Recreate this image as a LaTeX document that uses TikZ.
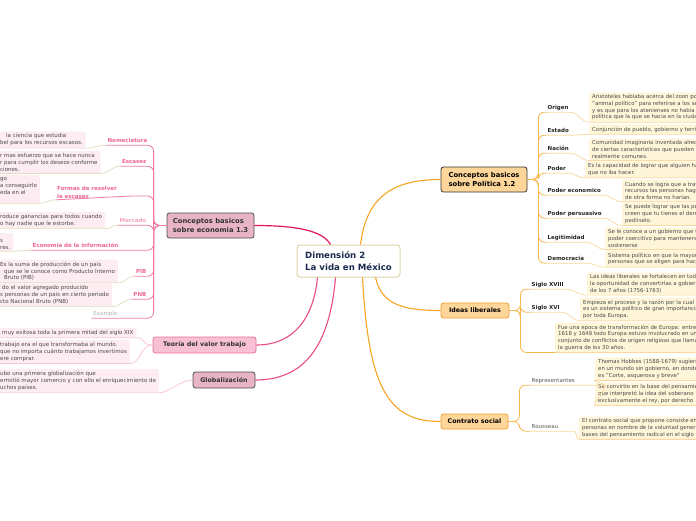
\documentclass[tikz,border=0pt]{standalone}
\usepackage{fontspec}
\setmainfont{DejaVu Sans}
\usetikzlibrary{calc}
\definecolor{navy}{HTML}{1B2A4E}
\definecolor{cborder}{HTML}{DDD3A8}
\definecolor{econfill}{HTML}{E7B3C7}
\definecolor{teofill}{HTML}{F8C0D4}
\definecolor{teoborder}{HTML}{E8709A}
\definecolor{polfill}{HTML}{FFD699}
\definecolor{libborder}{HTML}{F0A030}
\definecolor{darkb}{HTML}{4D4D4D}
\definecolor{econline}{HTML}{E2165E}
\definecolor{pinkline}{HTML}{EA4C86}
\definecolor{pinksub}{HTML}{F07AA5}
\definecolor{pinklab}{HTML}{F06595}
\definecolor{pinklight}{HTML}{F4A3BF}
\definecolor{beige}{HTML}{E6DAC0}
\definecolor{pinkbox}{HTML}{FDEDF3}
\definecolor{pinkedge}{HTML}{F7CADA}
\definecolor{orgline}{HTML}{F5A623}
\definecolor{orgsub}{HTML}{F8B64C}
\definecolor{orgunder}{HTML}{FAD89E}
\definecolor{yelbox}{HTML}{FFF6D9}
\definecolor{desctext}{HTML}{4A4A4A}
\tikzset{
  centerbox/.style={draw=cborder, line width=1pt, fill=white, rounded corners=3pt,
    inner xsep=6pt, inner ysep=4pt, align=left, minimum width=103pt, minimum height=32pt,
    font=\fontsize{8.6}{11.5}\selectfont\bfseries, text=navy},
  econbox/.style={draw=darkb, line width=0.8pt, fill=econfill, rounded corners=2.5pt,
    align=left, minimum width=87pt, minimum height=25pt,
    font=\fontsize{6.8}{9.5}\selectfont\bfseries, text=black!80},
  teobox/.style={draw=teoborder, line width=0.8pt, fill=teofill, rounded corners=2.5pt,
    minimum height=16pt, font=\fontsize{6.3}{7.5}\selectfont\bfseries, text=black!80},
  globbox/.style={draw=darkb, line width=0.8pt, fill=econfill, rounded corners=2.5pt,
    minimum height=16pt, font=\fontsize{6.3}{7.5}\selectfont\bfseries, text=black!80},
  polbox/.style={draw=black!80, line width=0.8pt, fill=polfill, rounded corners=2.5pt,
    align=left, minimum width=86pt, minimum height=25pt,
    font=\fontsize{6.8}{9.5}\selectfont\bfseries, text=black},
  libbox/.style={draw=libborder, line width=0.8pt, fill=polfill, rounded corners=2.5pt,
    minimum height=15pt, font=\fontsize{6.3}{7.5}\selectfont\bfseries, text=black},
  rlab/.style={anchor=west, font=\fontsize{5.5}{6.6}\selectfont\bfseries, text=black!85,
    inner xsep=1.5pt, inner ysep=1.5pt, text height=4pt, text depth=1pt},
  rlabn/.style={rlab, font=\fontsize{5.5}{6.6}\selectfont, text=black!65},
  llab/.style={anchor=east, font=\fontsize{5.5}{6.6}\selectfont\bfseries, text=pinklab,
    inner xsep=1.5pt, inner ysep=1.5pt, text height=4pt, text depth=1pt},
  desc/.style={anchor=north west, align=left, font=\fontsize{5.4}{6.7}\selectfont,
    text=desctext, fill=yelbox, inner xsep=3pt, inner ysep=2pt, rounded corners=1.5pt},
  pdesc/.style={desc, fill=pinkbox, font=\fontsize{5.5}{6.9}\selectfont},
  econmain/.style={draw=econline, line width=1.2pt},
  pinkmain/.style={draw=pinkline, line width=1.1pt},
  orgmain/.style={draw=orgline, line width=1.1pt},
  psub/.style={draw=pinksub, line width=0.8pt, rounded corners=6pt},
  tsub/.style={draw=pinkedge, line width=0.8pt},
  bline/.style={draw=beige, line width=0.7pt},
  osub/.style={draw=orgsub, line width=0.8pt, rounded corners=6pt},
  ounder/.style={draw=orgunder, line width=0.7pt},
}
\begin{document}
\begin{tikzpicture}[x=1pt,y=-1pt]
\fill[white] (0,0) rectangle (696,520);
\useasboundingbox (0,0) rectangle (696,520);
\clip (0,0) rectangle (696,520);

% ---------- main nodes
\node[centerbox] (c) at (348.5,261) {Dimensión 2\\La vida en México};
\node[econbox] (e) at (210.5,225.5) {Conceptos basicos\\sobre economia 1.3};
\node[teobox, minimum width=103pt] (t) at (204.5,345) {Teoría del valor trabajo};
\node[globbox, minimum width=62pt] (g) at (224,380) {Globalización};
\node[polbox] (p) at (484,179.5) {Conceptos basicos\\sobre Política 1.2};
\node[libbox, minimum width=68pt] (i) at (475,310.5) {Ideas liberales};
\node[libbox, minimum width=67pt] (cs) at (474.5,421.5) {Contrato social};

% ---------- main connectors
\draw[econmain] ($(c.north)+(-18,0)$) .. controls +(-8,-14) and +(42,0) .. (e.east);
\draw[pinkmain] ($(c.south)+(-31,0)$) .. controls +(-4,40) and +(38,0) .. (t.east);
\draw[pinkmain] ($(c.south)+(-13,0)$) .. controls +(-6,70) and +(48,0) .. (g.east);
\draw[orgmain] ($(c.north)+(12,0)$) .. controls +(6,-50) and +(-45,0) .. (p.west);
\draw[orgmain] ($(c.south)+(27,0)$) .. controls +(6,26) and +(-40,0) .. (i.west);
\draw[orgmain] ($(c.south)+(14,0)$) .. controls +(6,115) and +(-50,0) .. (cs.west);

% ---------- Politica
\node[rlab] (lo) at (546,108) {Origen};
\node[rlab] (le) at (546,131) {Estado};
\node[rlab] (ln) at (546,149) {Nación};
\node[rlab] (lp) at (546,169) {Poder};
\node[rlab] (lpe) at (546,191) {Poder economico};
\node[rlab] (lpp) at (546,214) {Poder persuasivo};
\node[rlab] (lleg) at (546,238) {Legitimidad};
\node[rlab] (ldem) at (546,259) {Democracia};

\node[desc] (do) at (589,92.5) {Aristoteles hablaba acerca del zoon politikon\\"animal político" para referirse a los seres\\y es que para los atenienses no habia otra\\política que la que se hacia en la ciudad};
\node[desc] (de) at (589,124.5) {Conjunción de pueblo, gobierno y territorio};
\node[desc] (dn) at (589,138.5) {Comunidad imaginaria inventada alrededor\\de ciertas características que pueden no ser\\realmente comunes.};
\node[desc] (dp) at (585,161.5) {Es la capacidad de lograr que alguien haga\\que no iba hacer.};
\node[desc] (dpe) at (622,179.5) {Cuando se logra que a través\\recursos las personas hagan\\de otra forma no harían.};
\node[desc] (dpp) at (622,202.5) {Se puede lograr que las personas\\creen que tu tienes el derecho\\pedírselo.};
\node[desc] (dleg) at (605,227.5) {Se le conoce a un gobierno que tiene\\poder coercitivo para mantenerse y\\sostenerse};
\node[desc] (ddem) at (605,250.5) {Sistema político en que la mayoría\\personas que se eligen para hacer};

\foreach \n in {lo,le,ln,lp,lpe,lpp,lleg,ldem}
  \draw[osub] (p.east) -- ++(11,0) |- (\n.south west);
\foreach \l/\d in {lo/do,le/de,ln/dn,lp/dp,lpe/dpe,lpp/dpp,lleg/dleg,ldem/ddem}
  \draw[ounder] (\l.south west) -- (\l.south east) .. controls +(8,0) and +(-8,0) .. (\d.south west) -- (\d.south east);

% ---------- Ideas liberales
\node[rlab] (l18) at (530,285) {Siglo XVIII};
\node[rlab] (l16) at (530,308) {Siglo XVI};
\node[desc] (d18) at (587,272.5) {Las ideas liberales se fortalecen en toda\\la oportunidad de convertirlas a gobierno\\de los 7 años (1756-1763)};
\node[desc] (d16) at (580,297.5) {Empieza el proceso y la razón por la cual\\es un sistema político de gran importancia\\por toda Europa.};
\node[desc] (dfue) at (555,322.5) {Fue una epoca de transformación de Europa: entre\\1618 y 1648 todo Europa estuvo involucrado en un\\conjunto de conflictos de origen religioso que llamaron\\la guerra de los 30 años.};
\foreach \n in {l18,l16,dfue}
  \draw[osub] (i.east) -- ++(11,0) |- (\n.south west);
\foreach \l/\d in {l18/d18,l16/d16}
  \draw[ounder] (\l.south west) -- (\l.south east) .. controls +(8,0) and +(-8,0) .. (\d.south west) -- (\d.south east);
\draw[ounder] (dfue.south west) -- (dfue.south east);

% ---------- Contrato social
\node[rlabn] (lrep) at (530,381) {Representantes};
\node[rlabn] (lrou) at (530,427) {Rousseau};
\node[desc] (dh1) at (595,357.5) {Thomas Hobbes (1588-1679) sugiere\\en un mundo sin gobierno, en donde\\es "Corte, asquerosa y breve"};
\node[desc] (dh2) at (595,382.5) {Se convirtio en la base del pensamiento\\que interpretó la idea del soberano\\exclusivamente el rey, por derecho};
\node[desc] (dro) at (579,416.5) {El contrato social que propone consiste en\\personas en nombre de la voluntad general\\bases del pensamiento radical en el siglo};
\foreach \n in {lrep,lrou}
  \draw[osub] (cs.east) -- ++(11,0) |- (\n.south west);
\draw[ounder] (lrep.south west) -- ($(lrep.south east)+(28,0)$) .. controls +(4,0) and +(-4,0) .. (dh1.south west) -- (dh1.south east);
\draw[ounder] ($(lrep.south east)+(28,0)$) .. controls +(4,0) and +(-4,0) .. (dh2.south west) -- (dh2.south east);
\draw[ounder] (lrou.south west) -- ($(lrou.south east)+(14,0)$) .. controls +(4,0) and +(-4,0) .. (dro.south west) -- (dro.south east);

% ---------- Economia
\node[llab] (lnom) at (149,141) {Nomeclatura};
\node[llab] (lesc) at (148,162) {Escasez};
\node[llab, anchor=center, align=left, text height=, text depth=, font=\fontsize{5.5}{8}\selectfont\bfseries] (lfor) at (87,192) {Formas de resolver\\la escasez};
\node[llab, text=pinklight] (lmer) at (148,221) {Mercado};
\node[llab] (linf) at (120,246) {Economía de la información};
\node[llab] (lpib) at (148,272) {PIB};
\node[llab] (lpnb) at (148,295) {PNB};
\node[llab, font=\fontsize{5.5}{6.6}\selectfont, text=black!30] (lex) at (119,314) {Example};

\node[pdesc] (bnom) at (-3,131.5) {\hspace*{6pt}la ciencia que estudia\\bel para los recursos escasos.};
\node[pdesc] (besc) at (-3,151) {r mas esfuerzo que se hace nunca\\r para cumplir los deseos conforme\\ciones.};
\node[pdesc] (bfor) at (-3,175) {go\\a conseguirlo\\eda en el\\\mbox{}};
\node[pdesc] (bmer) at (-3,212) {roduce ganancias para todos cuando\\o hay nadie que le estorbe.};
\node[pdesc] (binf) at (-3,233) {\mbox{}\\s\\res.};
\node[pdesc] (bpib) at (-3,259.5) {Es la suma de producción de un país\\\hspace*{4pt}que se le conoce como Producto Interno\\\hspace*{4pt}Bruto (PIB)};
\node[pdesc] (bpnb) at (-3,283.5) {\hspace*{2pt}do el valor agregado producido\\s personas de un país en cierto periodo\\cto Nacional Bruto (PNB)};

\foreach \n in {lnom,lesc,lmer,linf,lpib,lpnb,lex}
  \draw[psub] (e.west) -- ++(-13,0) |- (\n.south west);
\draw[psub] (e.west) -- ++(-13,0) |- ($(lfor.east)+(12,4)$) -- (lfor.south west);
\foreach \l/\b in {lnom/bnom,lesc/besc,lmer/bmer,linf/binf,lpib/bpib,lpnb/bpnb,lfor/bfor}
  \draw[bline] (\l.south west) .. controls +(-8,0) and +(8,0) .. (\b.south east) -- (\b.south west);

% ---------- Teoria & Globalizacion
\node[pdesc] (tb1) at (-3,328) {\hspace*{2pt}muy exitosa toda la primera mitad del siglo XIX};
\node[pdesc] (tb2) at (-3,340) {trabajo era el que transformaba al mundo.\\que no importa cuánto trabajamos invertimos\\ere comprar.};
\node[pdesc] (gb) at (-3,369) {ubo una primera globalización que\\ermitió mayor comercio y con ello el enriquecimiento de\\uchos países.};
\draw[tsub] (t.west) .. controls +(-12,0) and +(10,0) .. (tb1.south east) -- (tb1.south west);
\draw[tsub] (t.west) .. controls +(-12,0) and +(10,0) .. (tb2.south east) -- (tb2.south west);
\draw[tsub] (g.west) .. controls +(-12,0) and +(10,0) .. (gb.south east) -- (gb.south west);
\end{tikzpicture}
\end{document}
